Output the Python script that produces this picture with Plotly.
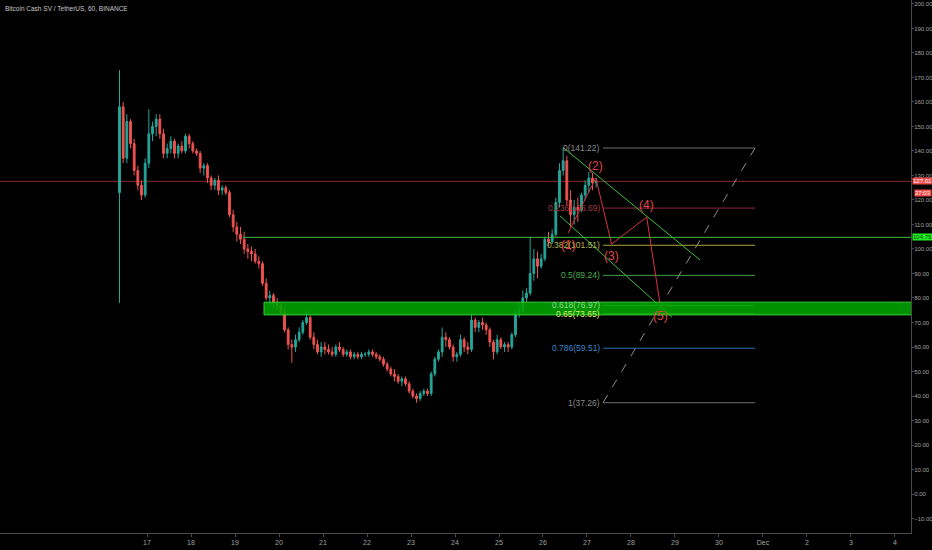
import pandas as pd
import plotly.graph_objects as go

# ---------------- data ----------------
title_text = "Bitcoin Cash SV / TetherUS, 60, BINANCE"
start_time = "2018-11-16 09:00"
bar_freq = "2h"

first_open = 123
closes = [158, 137, 152, 143, 132, 126, 122, 135, 147, 150,
          153, 147, 139, 141, 144, 139, 142, 140, 146, 143,
          140, 139, 133, 134, 129, 126, 128, 124, 125, 123,
          114, 109, 106, 104, 100, 99, 98, 95, 94, 86,
          80, 81, 78, 77, 74, 67, 61, 60, 63, 66,
          70, 72, 64, 61, 58, 60, 59, 58, 57, 60,
          59, 57, 58, 56, 57, 56, 57, 57, 58, 57,
          56, 55, 53, 51, 49, 48, 46, 47, 45, 42,
          40, 39, 41, 42, 41, 49, 55, 58, 64, 63,
          60, 56, 57, 63, 60, 59, 71, 68, 70, 69,
          67, 62, 58, 63, 60, 61, 60, 65, 74, 75,
          80, 82, 90, 96, 93, 96, 104, 103, 106, 119,
          132, 136, 120, 114, 117, 116, 122, 126, 129, 127,
          127.61]
highs = [173, 160, 155, 153, 145, 134, 128, 137, 157, 152,
         155, 155, 149, 143, 146, 145, 143, 144, 147, 147,
         144, 141, 140, 135, 135, 130, 129, 130, 126, 126,
         124, 116, 111, 109, 107, 102, 101, 100, 97, 95,
         88, 83, 82, 80, 78, 76, 68, 63, 65, 68,
         71, 75, 73, 66, 63, 62, 62, 61, 60, 61,
         62, 60, 59, 59, 58, 58, 58, 58, 59, 59,
         58, 57, 56, 54, 52, 51, 49, 48, 48, 46,
         43, 41, 42, 43, 43, 50, 56, 59, 68, 66,
         64, 61, 58, 65, 64, 62, 73, 72, 71, 72,
         70, 68, 63, 65, 64, 62, 62, 66, 76, 78,
         83, 84, 105, 100, 99, 98, 105, 107, 108, 121,
         135, 141.22, 138, 124, 120, 121, 123, 128, 131.4, 131,
         129]
lows = [78, 135, 135, 141, 130, 124, 120, 121, 133, 144,
        146, 145, 137, 137, 139, 137, 137, 139, 139, 141,
        139, 138, 131, 130, 127, 124, 124, 122, 122, 122,
        113, 107, 103, 102, 98, 96, 95, 94, 92, 85,
        79, 77, 76, 75, 73, 66, 59, 53.5, 58, 62,
        65, 69, 63, 59, 57, 56, 57, 57, 56, 56,
        58, 56, 56, 55, 55, 55, 55, 56, 56, 56,
        55, 54, 52, 50, 48, 46, 45, 44, 44, 41,
        39, 37.26, 38, 40, 40, 40, 48, 54, 56, 60,
        59, 54, 54, 56, 58, 57, 58, 66, 66, 67,
        65, 60, 55, 57, 59, 58, 58, 59, 64, 72,
        74, 78, 81, 87, 88, 92, 95, 101, 102, 105,
        117, 130, 118, 109, 110, 111, 115, 120, 123, 124,
        125]

last_price = 127.61
countdown_text = "27:03"
hline_price = 104.75
hline_start = "2018-11-19 04:20"

zone_start = "2018-11-19 15:50"
zone_end = "2018-12-05 00:00"
zone_top = 78.3
zone_bottom = 73.1

fib_high = 141.22
fib_low = 37.26
fib_ratios = [0, 0.236, 0.382, 0.5, 0.618, 0.65, 0.786, 1]
fib_ratio_text = ["0", "0.236", "0.382", "0.5", "0.618", "0.65", "0.786", "1"]
fib_line_colors = ["#6f6f6f", "#8e2b38", "#a8a83a", "#3f9f45", "#6fd06f", "#c8e05a", "#2f6faf", "#6f6f6f"]
fib_text_colors = ["#8a8a8a", "#a33a45", "#b9b94a", "#4caf50", "#8fdf8f", "#d9ef6a", "#3f85c8", "#8a8a8a"]
fib_start = "2018-11-27 08:45"
fib_end = "2018-11-30 19:40"

wave_times = ["2018-11-26 13:40", "2018-11-27 04:50", "2018-11-27 13:25",
              "2018-11-28 08:35", "2018-11-28 15:50"]
wave_prices = [106.5, 129.0, 102.0, 113.0, 77.5]
wave_labels = ["(1)", "(2)", "(3)", "(4)", "(5)"]
wave_label_side = [-1, 1, -1, 1, -1]

channel_upper_t = ["2018-11-26 10:50", "2018-11-29 13:40"]
channel_upper_p = [141.5, 95.5]
channel_lower_t = ["2018-11-26 09:15", "2018-11-28 22:20"]
channel_lower_p = [113.5, 72.2]

tick_dates = ["2018-11-17", "2018-11-18", "2018-11-19", "2018-11-20", "2018-11-21",
              "2018-11-22", "2018-11-23", "2018-11-24", "2018-11-25", "2018-11-26",
              "2018-11-27", "2018-11-28", "2018-11-29", "2018-11-30", "2018-12-01",
              "2018-12-02", "2018-12-03", "2018-12-04"]
tick_text = ["17", "18", "19", "20", "21", "22", "23", "24", "25", "26",
             "27", "28", "29", "30", "Dec", "2", "3", "4"]

x_range = ["2018-11-13 15:49", "2018-12-04 08:44"]
y_range = [-15.9, 201.6]

# ---------------- figure ----------------
times = pd.date_range(start_time, periods=len(closes), freq=bar_freq)
opens = [first_open] + closes[:-1]

UP = "#26a69a"
DOWN = "#ef5350"
AXIS_TXT = "#a0a0a0"
AXIS_LINE = "#4a4a4a"
FONT = "Liberation Sans, Arial, sans-serif"

fig = go.Figure()

fig.add_trace(go.Candlestick(
    x=times, open=opens, high=highs, low=lows, close=closes,
    increasing=dict(line=dict(color=UP, width=1), fillcolor=UP),
    decreasing=dict(line=dict(color=DOWN, width=1), fillcolor=DOWN),
    whiskerwidth=0, showlegend=False, hoverinfo="skip"))

shapes = []
shapes.append(dict(type="line", xref="paper", yref="y", x0=0, x1=1,
                   y0=last_price, y1=last_price,
                   line=dict(color="#8a2a2a", width=1), layer="below"))
shapes.append(dict(type="line", xref="x", yref="y", x0=hline_start, x1=x_range[1],
                   y0=hline_price, y1=hline_price,
                   line=dict(color="#3fbf3f", width=1)))
shapes.append(dict(type="rect", xref="x", yref="y", x0=zone_start, x1=zone_end,
                   y0=zone_bottom, y1=zone_top,
                   fillcolor="rgba(0,165,0,0.88)",
                   line=dict(color="#35d035", width=1), layer="above"))
fig.update_layout(shapes=shapes)

annotations = []
for r, rt, lc, tc in zip(fib_ratios, fib_ratio_text, fib_line_colors, fib_text_colors):
    lvl = fib_high - r * (fib_high - fib_low)
    fig.add_trace(go.Scatter(x=[fib_start, fib_end], y=[lvl, lvl], mode="lines",
                             line=dict(color=lc, width=1), showlegend=False,
                             hoverinfo="skip"))
    annotations.append(dict(x=fib_start, y=lvl, xref="x", yref="y",
                            text=f"{rt}({lvl:.2f})", showarrow=False,
                            xanchor="right", yanchor="middle", xshift=-1,
                            font=dict(size=8.5, color=tc, family=FONT)))

fig.add_trace(go.Scatter(x=[fib_start, fib_end], y=[fib_low, fib_high], mode="lines",
                         line=dict(color="#8c8c8c", width=1, dash="dash"),
                         showlegend=False, hoverinfo="skip"))

fig.add_trace(go.Scatter(x=channel_upper_t, y=channel_upper_p, mode="lines",
                         line=dict(color="#3fbf3f", width=1), showlegend=False, hoverinfo="skip"))
fig.add_trace(go.Scatter(x=channel_lower_t, y=channel_lower_p, mode="lines",
                         line=dict(color="#3fbf3f", width=1), showlegend=False, hoverinfo="skip"))

fig.add_trace(go.Scatter(x=wave_times, y=wave_prices, mode="lines",
                         line=dict(color="#d8343e", width=1), showlegend=False, hoverinfo="skip"))
for t, p, lab, side in zip(wave_times, wave_prices, wave_labels, wave_label_side):
    annotations.append(dict(x=t, y=p, xref="x", yref="y", text=lab, showarrow=False,
                            yshift=12 * side, xanchor="center", yanchor="middle",
                            font=dict(size=12, color="#e0474c", family=FONT)))

annotations.append(dict(x=0, y=1, xref="paper", yref="paper", text=title_text,
                        showarrow=False, xanchor="left", yanchor="top", xshift=3, yshift=-3,
                        font=dict(size=6.5, color="#c8c8c8", family=FONT)))

annotations.append(dict(x=1, y=last_price, xref="paper", yref="y", text=str(last_price),
                        showarrow=False, xanchor="left", yanchor="middle", xshift=1,
                        bgcolor="#ef4a4a", borderpad=0,
                        font=dict(size=6, color="#ffffff", family=FONT)))
annotations.append(dict(x=1, y=last_price, xref="paper", yref="y", text=countdown_text,
                        showarrow=False, xanchor="left", yanchor="middle", xshift=3, yshift=-12,
                        bgcolor="#ef4a4a", borderpad=0,
                        font=dict(size=6, color="#ffffff", family=FONT)))
annotations.append(dict(x=1, y=hline_price, xref="paper", yref="y", text=f"{hline_price:.2f}",
                        showarrow=False, xanchor="left", yanchor="middle", xshift=1,
                        bgcolor="#22ee22", borderpad=0,
                        font=dict(size=6, color="#0a3a0a", family=FONT)))

fig.update_layout(
    width=932, height=550,
    margin=dict(l=0, r=21, t=0, b=17, autoexpand=False),
    paper_bgcolor="#000000", plot_bgcolor="#000000",
    annotations=annotations,
    showlegend=False,
    xaxis=dict(type="date", range=x_range, rangeslider=dict(visible=False), automargin=False,
               tickvals=tick_dates, ticktext=tick_text, showgrid=False, zeroline=False,
               showline=True, linecolor=AXIS_LINE, ticks="outside", ticklen=3,
               tickcolor=AXIS_LINE, tickfont=dict(size=7, color=AXIS_TXT, family=FONT)),
    yaxis=dict(side="right", range=y_range, dtick=10, tick0=0, tickformat=".2f", automargin=False,
               showgrid=False, zeroline=False, showline=True, linecolor=AXIS_LINE,
               ticks="outside", ticklen=2, tickcolor=AXIS_LINE, ticklabelstandoff=-1,
               tickfont=dict(size=6, color=AXIS_TXT, family=FONT)),
)

fig.write_html("out.html", config={"displayModeBar": False},
               post_script="document.body.style.margin='0px';document.body.style.background='#000';")
